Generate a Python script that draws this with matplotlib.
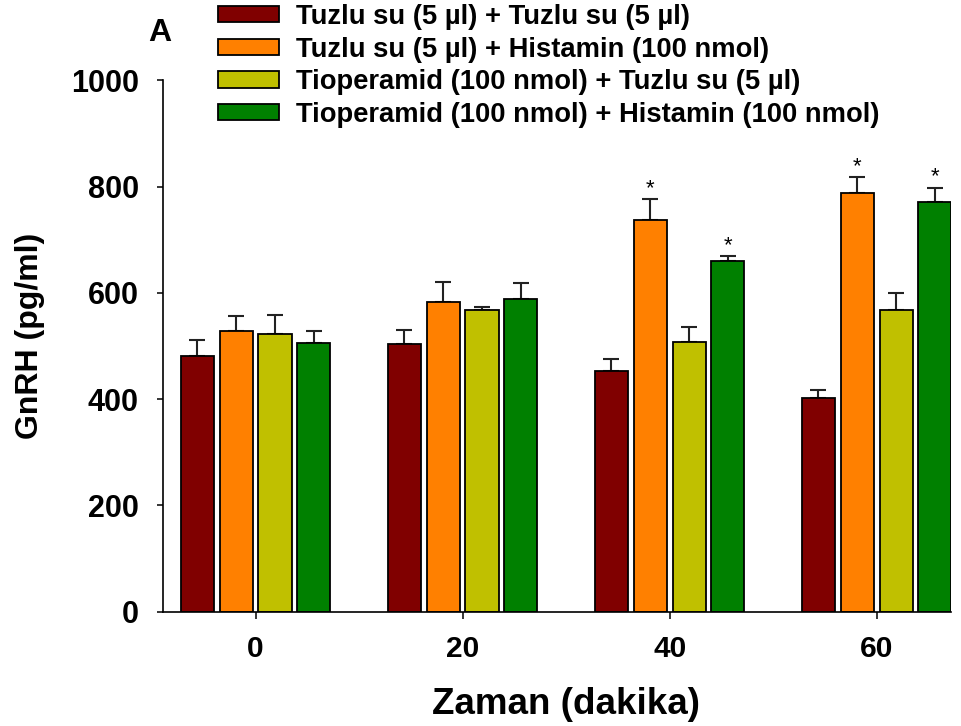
import matplotlib
matplotlib.use("Agg")
import matplotlib.pyplot as plt
import numpy as np

plt.rcParams['font.family'] = ['Liberation Sans', 'DejaVu Sans']
plt.rcParams['font.weight'] = 'bold'

# data
times = ['0', '20', '40', '60']
labels = ['Tuzlu su (5 µl) + Tuzlu su (5 µl)',
          'Tuzlu su (5 µl) + Histamin (100 nmol)',
          'Tioperamid (100 nmol) + Tuzlu su (5 µl)',
          'Tioperamid (100 nmol) + Histamin (100 nmol)']
saline_saline = [482, 504, 453, 403]
saline_hist = [529, 583, 737, 787]
tio_saline = [522, 568, 507, 567]
tio_hist = [505, 588, 659, 771]
err_saline_saline = [29, 26, 22, 15]
err_saline_hist = [28, 37, 39, 31]
err_tio_saline = [37, 5, 29, 32]
err_tio_hist = [23, 30, 10, 27]
# which bars get a star (series index, time index)
stars = [(1, 2), (3, 2), (1, 3), (3, 3)]

means = [saline_saline, saline_hist, tio_saline, tio_hist]
errs = [err_saline_saline, err_saline_hist, err_tio_saline, err_tio_hist]
colors = ['#800000', '#FF8000', '#C0C000', '#008000']

fig = plt.figure(figsize=(9.62, 7.26), dpi=100)
ax = fig.add_axes([0.1694, 0.1574, 0.8196, 0.7321])

x = np.arange(len(times))
pitch = 0.1875
width = 0.16
for i in range(4):
    pos = x + (i - 1.5) * pitch
    ax.bar(pos, means[i], width, color=colors[i], edgecolor='black',
           linewidth=1.3, label=labels[i], zorder=2)
    ax.errorbar(pos, means[i], yerr=[np.zeros(4), errs[i]], fmt='none',
                ecolor='#222222', elinewidth=1.5, capsize=5.8,
                capthick=1.5, zorder=1)

# significance stars above the error bars
for s, t in stars:
    top = means[s][t] + errs[s][t]
    ax.text(x[t] + (s - 1.5) * pitch, top, '*', ha='center',
            va='bottom', fontsize=16, fontweight='normal')

ax.set_ylim(0, 1000)
ax.set_xlim(-0.4476, 3.361)
ax.set_yticks([0, 200, 400, 600, 800, 1000])
ax.set_xticks(x)
ax.set_xticklabels(times)
ax.spines['top'].set_visible(False)
ax.spines['right'].set_visible(False)
ax.spines['left'].set_linewidth(1.2)
ax.spines['bottom'].set_linewidth(1.2)
ax.tick_params(axis='y', length=4.5, width=1.1, pad=13, labelsize=22)
ax.tick_params(axis='x', length=5, width=1.1, pad=12, labelsize=21.5)

ax.set_xlabel('Zaman (dakika)', fontsize=26.5, fontweight='bold')
ax.xaxis.set_label_coords(0.511, -0.141)
ax.set_ylabel('GnRH (pg/ml)', fontsize=23, fontweight='bold')
ax.yaxis.set_label_coords(-0.149, 0.519)

fig.text(160 / 962, 1 - 33 / 726, 'A', ha='center', va='center',
         fontsize=23, fontweight='bold')

fig.legend(loc='upper left', bbox_to_anchor=(218 / 962, 1 - 4 / 726),
           frameon=False, fontsize=19.7, handlelength=2.23,
           handleheight=0.53, handletextpad=0.62, labelspacing=0.24,
           borderpad=0, borderaxespad=0)

fig.savefig('out.png', dpi=100)
